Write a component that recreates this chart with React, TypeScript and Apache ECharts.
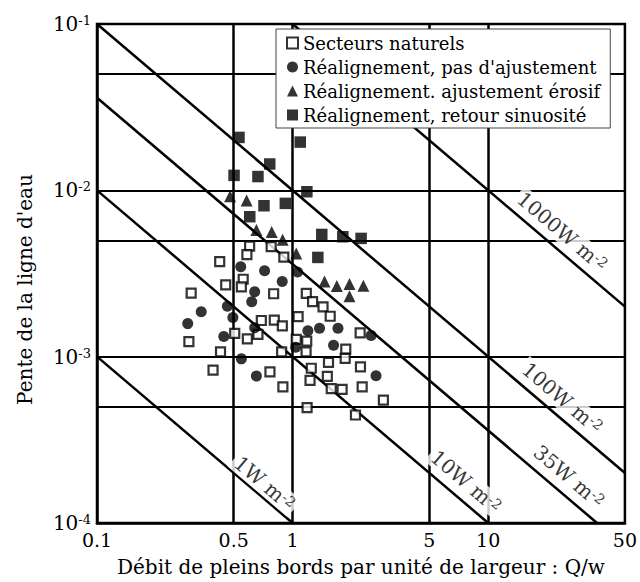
import React, { useEffect, useRef } from 'react';
import * as echarts from 'echarts';

const FONT = "'DejaVu Serif', 'Liberation Serif', serif";

// Axis ticks / grid lines
const xTickLabels = [0.1, 0.5, 1, 5, 10, 50];
const xGridValues = [0.5, 1, 5, 10];
const yTickLabels = [1e-4, 1e-3, 1e-2, 1e-1];
const yGridValues = [5e-4, 1e-3, 5e-3, 1e-2, 5e-2];

const seriesNames = [
  'Secteurs naturels',
  "Réalignement, pas d'ajustement",
  'Réalignement. ajustement érosif',
  'Réalignement, retour sinuosité',
];

// [Q/w, pente]
const secteursNaturels: [number, number][] = [
  [0.603, 0.00462], [0.584, 0.00411], [0.777, 0.00459], [0.902, 0.00397], [0.424, 0.00373],
  [0.559, 0.00292], [0.547, 0.00263], [0.455, 0.0027], [0.303, 0.00241], [0.8, 0.00239],
  [1.175, 0.0024], [1.265, 0.00214], [1.431, 0.00199], [1.557, 0.00175], [1.067, 0.00174],
  [0.692, 0.00165], [0.806, 0.00166], [0.886, 0.00153], [0.665, 0.00136], [0.587, 0.00128],
  [0.506, 0.00138], [0.295, 0.00123], [0.428, 0.00107], [0.879, 0.00107], [1.044, 0.00127],
  [1.181, 0.00124], [1.172, 0.00107], [1.87, 0.00111], [1.857, 0.000977], [1.526, 0.000925],
  [2.215, 0.00139], [2.223, 0.000868], [1.246, 0.000852], [1.505, 0.000762], [1.228, 0.00072],
  [2.268, 0.000659], [1.576, 0.000643], [1.791, 0.000636], [2.912, 0.000548], [1.186, 0.000494],
  [2.096, 0.000446], [0.392, 0.00083], [0.766, 0.000811], [0.892, 0.000659],
];

const pasAjustement: [number, number][] = [
  [0.543, 0.00347], [0.719, 0.00329], [0.885, 0.00283], [1.06, 0.00323], [0.64, 0.00246],
  [0.618, 0.00214], [0.464, 0.00201], [0.341, 0.00186], [0.291, 0.00158], [0.495, 0.00172],
  [0.445, 0.00132], [0.64, 0.00149], [1.197, 0.00143], [1.373, 0.00148], [1.706, 0.00148],
  [2.52, 0.00134], [1.62, 0.00117], [1.036, 0.00114], [0.547, 0.00097], [0.653, 0.000764],
  [2.67, 0.000767],
];

const ajustementErosif: [number, number][] = [
  [0.479, 0.0092], [0.582, 0.00869], [0.653, 0.00577], [0.782, 0.00561], [0.889, 0.00505],
  [1.044, 0.00417], [1.456, 0.00283], [1.683, 0.00266], [1.954, 0.00273], [2.3, 0.00267],
  [1.954, 0.00231],
];

const retourSinuosite: [number, number][] = [
  [0.532, 0.0208], [1.094, 0.0195], [0.764, 0.0144], [0.502, 0.0123], [0.665, 0.0121],
  [1.183, 0.00981], [0.714, 0.00808], [0.918, 0.00835], [0.604, 0.00694], [1.41, 0.00543],
  [1.806, 0.00526], [2.24, 0.00514], [1.346, 0.00395],
];

// Iso-power lines (endpoints)
const powerNames = ['1W', '10W', '35W', '100W', '1000W'];
const powerLines: [number, number][][] = [
  [[0.1, 1e-3], [1, 1e-4]],
  [[0.1, 1e-2], [10, 1e-4]],
  [[0.1, 3.6e-2], [36, 1e-4]],
  [[0.1, 1e-1], [50, 2e-4]],
  [[1, 1e-1], [50, 2e-3]],
];
// Label centres for each iso-power line
const powerLabelPos: [number, number][] = [
  [0.719, 1.73e-4],
  [7.69, 1.77e-4],
  [25.9, 1.9e-4],
  [23.9, 5.64e-4],
  [23.9, 5.64e-3],
];

export default function App() {
  const ref = useRef<HTMLDivElement>(null);
  useEffect(() => {
    if (!ref.current) return;
    const chart = echarts.init(ref.current, null, { renderer: 'svg' });
    const black = '#000';
    const option: any = {
      animation: false,
      backgroundColor: '#fff',
      textStyle: { fontFamily: FONT },
      grid: {
        left: 97, right: 15, top: 24, bottom: 59,
        show: true, borderColor: black, borderWidth: 2.5, backgroundColor: 'transparent',
      },
      legend: {
        data: seriesNames,
        orient: 'vertical',
        left: 276, top: 29,
        itemWidth: 11, itemHeight: 11, itemGap: 6,
        padding: [5, 10, 4, 10],
        backgroundColor: '#fff',
        borderColor: '#444', borderWidth: 1,
        selectedMode: false,
        textStyle: { fontFamily: FONT, fontSize: 18, color: black, lineHeight: 18 },
      },
      xAxis: {
        type: 'log', logBase: 10, min: 0.1, max: 50,
        name: 'Débit de pleins bords par unité de largeur : Q/w',
        nameLocation: 'middle', nameGap: 34,
        nameTextStyle: { fontFamily: FONT, fontSize: 20, color: black },
        axisLine: { lineStyle: { color: black, width: 2.5 } },
        axisTick: { show: false, customValues: xGridValues },
        axisLabel: {
          customValues: xTickLabels,
          hideOverlap: false,
          formatter: (v: number) => String(+Number(v).toPrecision(3)),
          fontFamily: FONT, fontSize: 19, color: black, margin: 7,
        },
        splitLine: { show: true, lineStyle: { color: black, width: 2.5 } },
      },
      yAxis: {
        type: 'log', logBase: 10, min: 1e-4, max: 1e-1,
        name: "Pente de la ligne d'eau",
        nameLocation: 'middle', nameGap: 62,
        nameTextStyle: { fontFamily: FONT, fontSize: 20, color: black, padding: [0, 32, 0, 0] },
        axisLine: { lineStyle: { color: black, width: 2.5 } },
        axisTick: { show: false, customValues: yGridValues },
        axisLabel: {
          customValues: yTickLabels,
          hideOverlap: false,
          margin: 6,
          formatter: (v: number) => `{n|10}{s|${Math.round(Math.log10(v))}}`,
          rich: {
            n: { fontFamily: FONT, fontSize: 20, color: black, lineHeight: 20 },
            s: { fontFamily: FONT, fontSize: 13, color: black, lineHeight: 13, verticalAlign: 'top' },
          },
        },
        splitLine: { show: true, lineStyle: { color: black, width: 2.2 } },
      },
      series: [
        ...powerLines.map((pts, i) => ({
          type: 'line',
          name: powerNames[i] + ' line',
          data: pts,
          symbol: 'none',
          silent: true,
          clip: true,
          z: 1,
          lineStyle: { color: black, width: 2.5 },
        })),
        {
          type: 'scatter',
          name: seriesNames[0],
          data: secteursNaturels,
          symbol: 'rect',
          symbolSize: 9,
          z: 3,
          itemStyle: { color: '#fff', borderColor: black, borderWidth: 2.2 },
        },
        {
          type: 'scatter',
          name: seriesNames[1],
          data: pasAjustement,
          symbol: 'circle',
          symbolSize: 11,
          z: 3,
          itemStyle: { color: black },
        },
        {
          type: 'scatter',
          name: seriesNames[2],
          data: ajustementErosif,
          symbol: 'triangle',
          symbolSize: 12,
          z: 3,
          itemStyle: { color: black },
        },
        {
          type: 'scatter',
          name: seriesNames[3],
          data: retourSinuosite,
          symbol: 'rect',
          symbolSize: 11.5,
          z: 3,
          itemStyle: { color: black },
        },
        {
          type: 'scatter',
          name: 'power labels',
          silent: true,
          symbolSize: 0,
          z: 4,
          data: powerLabelPos.map((p, i) => ({ value: p, name: powerNames[i] })),
          label: {
            show: true,
            position: 'inside',
            rotate: -40.3,
            formatter: (p: any) => `{a|${p.name} m}{s|-2}`,
            backgroundColor: '#fff',
            padding: [1, 3, 1, 3],
            rich: {
              a: { fontFamily: FONT, fontSize: 20, color: black, lineHeight: 20 },
              s: { fontFamily: FONT, fontSize: 14, color: black, lineHeight: 14, verticalAlign: 'top' },
            },
          },
        },
      ],
    };
    chart.setOption(option);
    return () => chart.dispose();
  }, []);
  return (
    <div
      ref={ref}
      style={{ position: 'fixed', left: 0, top: 0, width: 640, height: 582, background: '#fff' }}
    />
  );
}
